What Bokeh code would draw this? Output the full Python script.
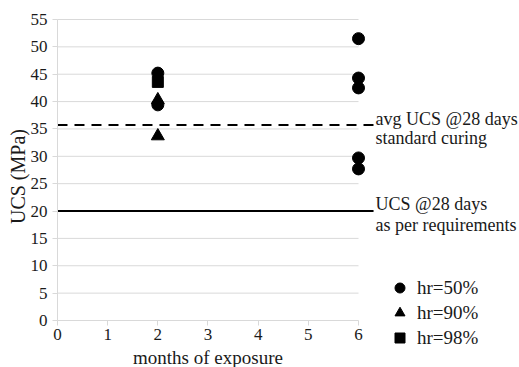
import math
from bokeh.plotting import figure
from bokeh.models import Range1d, Legend, LegendItem, Label, FixedTicker
from bokeh.embed import file_html
from bokeh.resources import INLINE

# data
x50 = [2, 2, 6, 6, 6, 6, 6]
y50 = [45.2, 39.4, 51.5, 44.3, 42.5, 29.7, 27.7]
x90 = [2, 2]
y90 = [40.3, 33.7]
x98 = [2]
y98 = [43.6]
avg_std = 35.7
req = 20.0
xticks = [0, 1, 2, 3, 4, 5, 6]
yticks = list(range(0, 56, 5))

FONT = "Liberation Serif"
TXT = "#1a1a1a"

p = figure(width=519, height=367, output_backend="svg", toolbar_location=None,
           x_range=Range1d(-1.136, 9.209), y_range=Range1d(-8.59, 58.47),
           min_border=0)
p.outline_line_color = None
p.xgrid.visible = False
p.ygrid.visible = False
p.background_fill_color = "white"

# gridlines limited to 0..6
gy = yticks[1:]
p.segment(x0=[0] * len(gy), x1=[6] * len(gy), y0=gy, y1=gy, line_color="#d9d9d9", line_width=1)

# reference lines
p.line([0, 6.3], [avg_std, avg_std], line_color="black", line_width=2, line_dash="10 7")
p.line([0, 6.3], [req, req], line_color="black", line_width=2)

r50 = p.scatter(x50, y50, marker="circle", size=12, color="black")
r90 = p.scatter(x90, y90, marker="triangle", size=13, color="black")
r98 = p.scatter(x98, y98, marker="square", size=11, color="black")

for ax in (p.xaxis, p.yaxis):
    ax.fixed_location = 0
    ax.axis_line_color = "#d9d9d9"
    ax.major_tick_line_color = "#d9d9d9"
    ax.minor_tick_line_color = None
    ax.major_tick_in = 0
    ax.major_tick_out = 5
    ax.major_label_text_font = FONT
    ax.major_label_text_font_size = "17px"
    ax.major_label_text_color = TXT

p.xaxis.ticker = FixedTicker(ticks=xticks)
p.yaxis.ticker = FixedTicker(ticks=yticks)
p.xaxis.bounds = (0, 6)
p.yaxis.bounds = (0, 55)
p.xaxis.major_label_standoff = 4
p.yaxis.major_label_standoff = 5

p.add_layout(Label(x=3, y=-6.8, text="months of exposure", text_font=FONT, text_font_size="19px",
                   text_align="center", text_baseline="middle", text_color=TXT))
p.add_layout(Label(x=-0.78, y=26.3, text="UCS (MPa)", text_font=FONT, text_font_size="20px",
                   text_align="center", text_baseline="middle", text_color=TXT, angle=math.pi / 2))

for (txt, yv) in [("avg UCS @28 days", avg_std + 1.2), ("standard curing", avg_std - 2.4),
                  ("UCS @28 days", req + 1.2), ("as per requirements", req - 2.6)]:
    p.add_layout(Label(x=6.34, y=yv, text=txt, text_font=FONT, text_font_size="18px",
                       text_baseline="middle", text_color=TXT))

legend = Legend(items=[LegendItem(label="hr=50%", renderers=[r50]),
                       LegendItem(label="hr=90%", renderers=[r90]),
                       LegendItem(label="hr=98%", renderers=[r98])],
                location=(387, 17), label_text_font=FONT, label_text_font_size="19px",
                label_text_color=TXT, border_line_color=None, background_fill_alpha=0,
                glyph_width=25, glyph_height=25, spacing=0, padding=0, margin=0, label_standoff=5)
p.add_layout(legend)

open("out.html", "w").write(file_html(p, INLINE))
